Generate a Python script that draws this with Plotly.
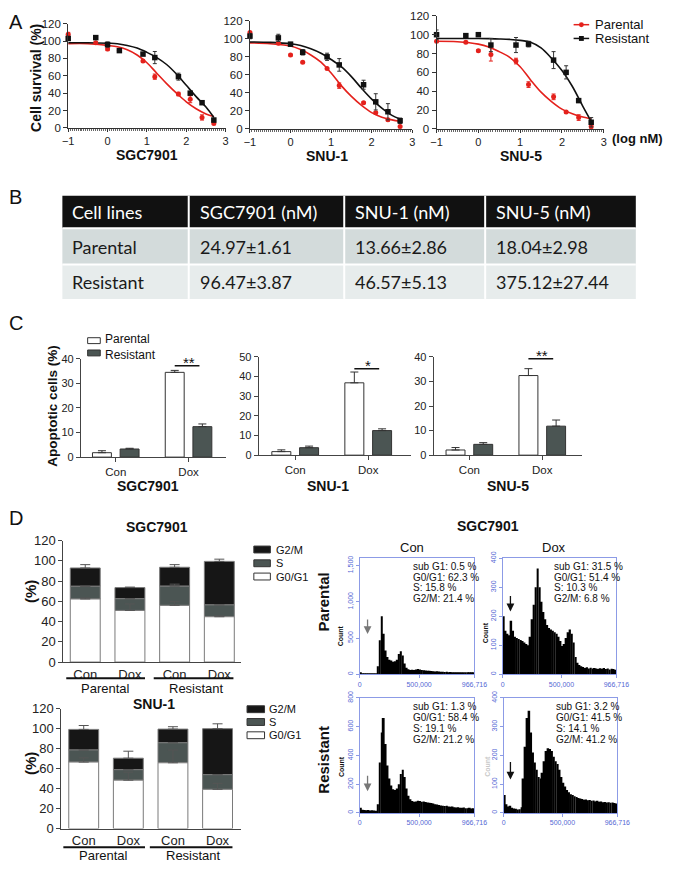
import plotly.graph_objects as go

W, H = 677, 872
def fx(x): return x / W
def fy(y): return 1 - y / H

FONT = "Liberation Sans"
RED = "#e4211c"
BLK = "#111111"

# ---------------- Panel A: dose-response ----------------
doses = [-1, -0.3, 0, 0.3, 0.9, 1.2, 1.8, 2.1, 2.4, 2.7]
fit_x = [-1, -0.5, 0, 0.25, 0.5, 0.75, 1, 1.25, 1.5, 1.75, 2, 2.25, 2.5, 2.7]
a_cells = ["SGC7901", "SNU-1", "SNU-5"]

sgc_par = [108, 98, 91, 89, 77, 59, 39, 33, 12, 5]
sgc_par_err = [2, 1, 2, 1, 1, 3, 2, 4, 3, 1]
sgc_res = [103, 104, 96, 89, 85, 81, 59, 40, 29, 9]
sgc_res_err = [2, 2, 3, 2, 1, 7, 4, 1, 1, 2]
sgc_par_fit = [97, 97, 95, 93.5, 90, 84, 75, 63, 51, 40, 30, 22, 16, 13]
sgc_res_fit = [98, 98, 97.5, 97, 95, 92, 87, 81, 73, 62, 49, 36, 24, 12]

snu1_par = [107, 95, 82, 74, 67, 48, 29, 18, 10, 2.5]
snu1_par_err = [1, 1, 1, 1, 1, 3, 1, 1, 1, 1]
snu1_res = [103, 101, 94, 85, 80, 71, 49, 30, 19, 9]
snu1_res_err = [3, 4, 2, 3, 4, 7, 5, 9, 9, 3]
snu1_par_fit = [95.5, 94.5, 92, 88, 82, 74, 62, 48, 36, 26, 18, 13, 10, 8.5]
snu1_res_fit = [96.5, 96, 94.5, 92.5, 89, 84, 77, 69, 58, 45, 33, 23, 15, 11]

snu5_par = [93, 92, 83, 79, 72, 47, 34, 18, 12, 2.5]
snu5_par_err = [1, 1, 1, 7, 3, 3, 3, 1, 3, 2]
snu5_res = [100, 99, 100, 89, 89, 90, 73, 60, 30, 7]
snu5_res_err = [5, 1, 1, 7, 8, 3, 9, 7, 1, 5]
snu5_par_fit = [93, 92.5, 90, 87, 82, 76, 66, 52, 39, 29, 21, 16, 12.5, 10.5]
snu5_res_fit = [96, 96, 96, 95.8, 95.5, 95, 94, 92, 86, 75, 62, 45, 24, 8]

# ---------------- Panel B: IC50 table ----------------
table_header = ["Cell lines", "SGC7901 (nM)", "SNU-1 (nM)", "SNU-5 (nM)"]
table_parental = ["Parental", "24.97±1.61", "13.66±2.86", "18.04±2.98"]
table_resistant = ["Resistant", "96.47±3.87", "46.57±5.13", "375.12±27.44"]

# ---------------- Panel C: apoptosis ----------------
c_groups = ["Con", "Dox"]
c_cells = ["SGC7901", "SNU-1", "SNU-5"]
c_series = ["Parental", "Resistant"]
apo_par = [[1.8, 34.5], [1.8, 36.8], [2.1, 32.4]]
apo_par_err = [[0.8, 0.8], [0.9, 5.5], [1.0, 2.8]]
apo_res = [[3.3, 12.4], [3.8, 12.5], [4.4, 11.8]]
apo_res_err = [[0.3, 1.1], [0.8, 0.9], [0.7, 2.5]]
apo_sig = ["**", "*", "**"]

# ---------------- Panel D: cell cycle bars ----------------
d_ticks = ["Con", "Dox", "Con", "Dox"]
d_groups = ["Parental", "Resistant"]
phases = ["G2/M", "S", "G0/G1"]
sgc_g0g1 = [62.3, 51.0, 56.0, 44.8]
sgc_s = [12.6, 11.6, 19.0, 11.7]
sgc_g2m = [18.1, 11.0, 18.7, 43.0]
sgc_g0g1_err = [1.0, 6.4, 3.7, 0.8]
sgc_s_err = [0, 0, 2.0, 0]
sgc_g2m_err = [3.3, 0.5, 2.6, 2.2]
snu1_g0g1 = [66.6, 48.5, 65.9, 39.3]
snu1_s = [12.1, 10.5, 20.0, 14.7]
snu1_g2m = [20.6, 11.5, 13.7, 46.0]
snu1_g0g1_err = [4.2, 8.0, 12.8, 6.0]
snu1_s_err = [0, 0, 0, 0]
snu1_g2m_err = [3.9, 7.0, 2.4, 4.9]

# ---------------- Panel D: DNA histograms (60 bins over 0..966,716) ----------------
hist_max = 966716
par_con_counts = [25, 10, 5, 5, 4, 5, 4, 5, 8, 110, 470, 800, 560, 330, 240, 200, 190, 175, 180, 200,
                  280, 320, 260, 150, 90, 70, 60, 62, 58, 65, 72, 68, 60, 55, 52, 50, 48, 45, 42, 40,
                  42, 38, 36, 35, 33, 34, 30, 31, 29, 28, 30, 27, 26, 28, 25, 27, 24, 26, 25, 24]
par_dox_counts = [200, 150, 140, 135, 185, 150, 130, 125, 122, 118, 115, 110, 105, 100, 130, 190, 240, 300, 365, 300,
                  250, 215, 190, 170, 160, 155, 150, 145, 140, 130, 115, 98, 105, 125, 145, 155, 140, 110, 60, 40,
                  32, 28, 25, 22, 24, 20, 23, 19, 22, 20, 18, 21, 19, 22, 18, 20, 17, 19, 18, 16]
res_con_counts = [35, 22, 20, 18, 20, 17, 19, 16, 15, 60, 350, 560, 660, 480, 330, 240, 190, 165, 160, 170,
                  200, 270, 300, 250, 170, 120, 95, 82, 78, 80, 85, 82, 78, 80, 75, 72, 70, 68, 65, 60,
                  58, 55, 52, 50, 48, 50, 45, 42, 44, 40, 38, 40, 36, 35, 38, 33, 32, 35, 30, 32]
res_dox_counts = [62, 30, 22, 25, 18, 15, 14, 12, 13, 20, 120, 230, 330, 355, 280, 210, 175, 150, 125, 120,
                  140, 180, 215, 225, 222, 215, 195, 180, 170, 150, 125, 105, 92, 80, 72, 65, 62, 58, 55, 52,
                  50, 48, 46, 47, 44, 45, 42, 43, 40, 42, 39, 40, 37, 38, 36, 37, 35, 36, 34, 33]
par_con_stats = ["sub G1: 0.5 %", "G0/G1: 62.3 %", "S: 15.8 %", "G2/M: 21.4 %"]
par_dox_stats = ["sub G1: 31.5 %", "G0/G1: 51.4 %", "S: 10.3 %", "G2/M: 6.8 %"]
res_con_stats = ["sub G1: 1.3 %", "G0/G1: 58.4 %", "S: 19.1 %", "G2/M: 21.2 %"]
res_dox_stats = ["sub G1: 3.2 %", "G0/G1: 41.5 %", "S: 14.1 %", "G2/M: 41.2 %"]
hist_x_ticks = [0, 500000, 966716]
hist_x_text = ["0", "500,000", "966,716"]

# =====================================================================
fig = go.Figure()
layout = dict(width=W, height=H, autosize=False, margin=dict(l=0, r=0, t=0, b=0, pad=0),
              paper_bgcolor="white", plot_bgcolor="white", showlegend=False,
              barmode="overlay", font=dict(family=FONT, color=BLK))
annotations = []
shapes = []

def keys(i):
    s = "" if i == 1 else str(i)
    return "xaxis" + s, "yaxis" + s, "x" + s, "y" + s

def text(t, x, y, size, bold=False, angle=0, anchor="center", color=BLK, family=FONT):
    annotations.append(dict(text=("<b>%s</b>" % t) if bold else t, x=fx(x), y=fy(y),
                            xref="paper", yref="paper", showarrow=False,
                            font=dict(size=size, color=color, family=family),
                            textangle=angle, xanchor=anchor, yanchor="middle", align="left"))

def rect(x0, y0, x1, y1, fill, line=None, lw=0):
    shapes.append(dict(type="rect", xref="paper", yref="paper", x0=fx(x0), x1=fx(x1),
                       y0=fy(y1), y1=fy(y0), fillcolor=fill,
                       line=dict(color=line or fill, width=lw), layer="above"))

def hline(x0, x1, y, color=BLK, w=1.0):
    shapes.append(dict(type="line", xref="paper", yref="paper", x0=fx(x0), x1=fx(x1),
                       y0=fy(y), y1=fy(y), line=dict(color=color, width=w), layer="above"))

def arrow(x, y_tail, y_head, shaft="black"):
    annotations.append(dict(text="", x=fx(x), y=fy(y_head), xref="paper", yref="paper",
                            ax=0, ay=-(y_head - y_tail), showarrow=True, arrowhead=2,
                            arrowsize=1.2, arrowwidth=1.3, arrowcolor=shaft))

# ---------------- Panel A ----------------
A_dom = [((64, 226), (123, 17)), ((251, 418), (124, 14)), ((443, 615), (124, 9))]
A_data = [(sgc_par, sgc_par_err, sgc_res, sgc_res_err, sgc_par_fit, sgc_res_fit),
          (snu1_par, snu1_par_err, snu1_res, snu1_res_err, snu1_par_fit, snu1_res_fit),
          (snu5_par, snu5_par_err, snu5_res, snu5_res_err, snu5_par_fit, snu5_res_fit)]
A_title_pos = [(145, 151), (330, 152), (530, 152)]
for k in range(3):
    i = k + 1
    xk, yk, xr, yr = keys(i)
    (x0, x1), (yb, yt) = A_dom[k]
    layout[xk] = dict(domain=[fx(x0), fx(x1)], range=[-1, 3], anchor=yr, showline=True,
                      linecolor="#333", linewidth=1, ticks="outside", ticklen=3, tickcolor="#333",
                      tickmode="linear", tick0=-1, dtick=1, tickfont=dict(size=11, color="#222"),
                      showgrid=False, zeroline=False,
                      minor=dict(ticks="outside", ticklen=2.5, tick0=-1, dtick=0.05,
                                 tickcolor="#666", showgrid=False))
    layout[yk] = dict(domain=[fy(yb), fy(yt)], range=[0, 120], anchor=xr, showline=True,
                      linecolor="#333", linewidth=1, ticks="outside", ticklen=4, tickcolor="#333",
                      dtick=20, tickfont=dict(size=11.5, color="#222"), showgrid=False, zeroline=False)
    par, pe, res, re_, pf, rf = A_data[k]
    fig.add_trace(go.Scatter(x=fit_x, y=pf, mode="lines", line=dict(color=RED, width=1.6, shape="spline"),
                             xaxis=xr, yaxis=yr, cliponaxis=False))
    fig.add_trace(go.Scatter(x=fit_x, y=rf, mode="lines", line=dict(color=BLK, width=1.6, shape="spline"),
                             xaxis=xr, yaxis=yr, cliponaxis=False))
    fig.add_trace(go.Scatter(x=doses, y=par, mode="markers", marker=dict(color=RED, size=5, symbol="circle"),
                             error_y=dict(type="data", array=pe, color=RED, thickness=1, width=2),
                             xaxis=xr, yaxis=yr, cliponaxis=False, name="Parental"))
    fig.add_trace(go.Scatter(x=doses, y=res, mode="markers", marker=dict(color=BLK, size=5.5, symbol="square"),
                             error_y=dict(type="data", array=re_, color="#333", thickness=1, width=2),
                             xaxis=xr, yaxis=yr, cliponaxis=False, name="Resistant"))
    tx, ty = A_title_pos[k]
    text(a_cells[k], tx, ty, 14, bold=True)
text("A", 10, 15, 20)
text("Cell survival (%)", 31, 72, 14, bold=True, angle=-90)
text("(log nM)", 650, 134, 13, bold=True)
# legend A
for j, (nm, col, sym) in enumerate([("Parental", RED, "circle"), ("Resistant", BLK, "square")]):
    yy = 18 + 14 * j
    hline(584, 600, yy, col, 1.5)
    if sym == "circle":
        shapes.append(dict(type="circle", xref="paper", yref="paper", x0=fx(589.5), x1=fx(594.5),
                           y0=fy(yy + 2.5), y1=fy(yy - 2.5), fillcolor=col, line=dict(color=col, width=0)))
    else:
        rect(589.5, yy - 2.5, 594.5, yy + 2.5, col)
    text(nm, 604, yy, 13, anchor="left")

# ---------------- Panel B ----------------
col_edges = [58, 188, 348, 493, 648]
row_edges = [192, 225, 262, 297]
text_x = [66, 198, 357, 502]
row_fill = ["#111111", "#d3dbdb", "#e7ecec"]
row_color = ["white", "#1a1a1a", "#1a1a1a"]
for r, row in enumerate([table_header, table_parental, table_resistant]):
    for c in range(4):
        rect(col_edges[c], row_edges[r], col_edges[c + 1], row_edges[r + 1], row_fill[r])
        text(row[c], text_x[c], (row_edges[r] + row_edges[r + 1]) / 2 + 0.5, 18,
             anchor="left", color=row_color[r], family="Lato")
for c in range(1, 4):
    shapes.append(dict(type="line", xref="paper", yref="paper", x0=fx(col_edges[c]), x1=fx(col_edges[c]),
                       y0=fy(row_edges[0]), y1=fy(row_edges[-1]), line=dict(color="white", width=2), layer="above"))
for r in range(1, 3):
    hline(col_edges[0], col_edges[-1], row_edges[r], "white", 2)
text("B", 10, 193, 20)

# ---------------- Panel C ----------------
C_dom = [((77, 226), (458, 358)), ((260, 417), (456, 356)), ((440, 593), (456, 356))]
C_yr = [40, 50, 40]
C_xr = [(-0.48, 1.51), (-0.5, 1.59), (-0.49, 1.55)]
C_sig_y = [37.2, 44.0, 39.2]
C_title_x = [146, 331, 517]
off, bw = 0.19, 0.26
for k in range(3):
    i = k + 4
    xk, yk, xr, yr = keys(i)
    (x0, x1), (yb, yt) = C_dom[k]
    layout[xk] = dict(domain=[fx(x0), fx(x1)], range=list(C_xr[k]), anchor=yr, showline=True,
                      linecolor="#444", linewidth=1, ticks="outside", ticklen=4, tickcolor="#444",
                      tickvals=[0, 1], ticktext=c_groups, tickfont=dict(size=11.5, color="#222"),
                      showgrid=False, zeroline=False)
    layout[yk] = dict(domain=[fy(yb), fy(yt)], range=[0, C_yr[k]], anchor=xr, showline=True,
                      linecolor="#444", linewidth=1, ticks="outside", ticklen=4, tickcolor="#444",
                      dtick=10, tickfont=dict(size=11, color="#222"), showgrid=False, zeroline=False)
    fig.add_trace(go.Bar(x=[g - off for g in range(2)], y=apo_par[k], width=bw,
                         marker=dict(color="white", line=dict(color="#333", width=1)),
                         error_y=dict(type="data", array=apo_par_err[k], arrayminus=[0, 0], symmetric=False,
                                      color="#333", thickness=1, width=4),
                         xaxis=xr, yaxis=yr, name="Parental"))
    fig.add_trace(go.Bar(x=[g + off for g in range(2)], y=apo_res[k], width=bw,
                         marker=dict(color="#4b5553", line=dict(color="#333", width=1)),
                         error_y=dict(type="data", array=apo_res_err[k], arrayminus=[0, 0], symmetric=False,
                                      color="#333", thickness=1, width=4),
                         xaxis=xr, yaxis=yr, name="Resistant"))
    shapes.append(dict(type="line", xref=xr, yref=yr, x0=1 - off, x1=1 + off - 0.04,
                       y0=C_sig_y[k], y1=C_sig_y[k], line=dict(color=BLK, width=1.5)))
    annotations.append(dict(text=apo_sig[k], x=1, y=C_sig_y[k], xref=xr, yref=yr, showarrow=False,
                            yanchor="bottom", yshift=-7, font=dict(size=15, color=BLK, family=FONT)))
    text(c_cells[k], C_title_x[k], 487, 14, bold=True)
text("C", 10, 322, 20)
text("Apoptotic cells (%)", 47, 406, 13.5, bold=True, angle=-90)
rect(84, 336.5, 97, 342.5, "white", "#333", 1)
rect(84, 349, 97, 355, "#4b5553", "#333", 1)
text("<br>".join(c_series), 100, 346, 12, anchor="left")

# ---------------- Panel D: stacked bars ----------------
D_dom = [((59, 242), (666.5, 543)), ((57, 242), (836, 714))]
D_xr = [(-0.49, 3.49), (-0.5, 3.53)]
D_data = [(sgc_g0g1, sgc_s, sgc_g2m, sgc_g0g1_err, sgc_s_err, sgc_g2m_err),
          (snu1_g0g1, snu1_s, snu1_g2m, snu1_g0g1_err, snu1_s_err, snu1_g2m_err)]
D_titles = [("SGC7901", 155, 529), ("SNU-1", 152, 709)]
D_under = [(683, 62, 143, 152, 234, 693, 102, 196), (855, 59, 143, 148, 233, 863, 100, 193)]
D_leg = [(255, 272, 276, [552, 566, 579.5]), (248, 266, 269, [714.5, 727.5, 741])]
D_ylab = [595, 770]
phase_col = {"G2/M": "#161616", "S": "#4b5553", "G0/G1": "white"}
for k in range(2):
    i = k + 7
    xk, yk, xr, yr = keys(i)
    (x0, x1), (yb, yt) = D_dom[k]
    layout[xk] = dict(domain=[fx(x0), fx(x1)], range=list(D_xr[k]), anchor=yr, showline=True,
                      linecolor="#444", linewidth=1, ticks="", tickvals=[0, 1, 2, 3], ticktext=d_ticks,
                      tickfont=dict(size=13, color="#222"), showgrid=False, zeroline=False)
    layout[yk] = dict(domain=[fy(yb), fy(yt)], range=[0, 120], anchor=xr, showline=True,
                      linecolor="#444", linewidth=1, ticks="outside", ticklen=4, tickcolor="#444",
                      dtick=20, tickfont=dict(size=13, color="#222"), showgrid=False, zeroline=False)
    g1, s, g2, g1e, se, g2e = D_data[k]
    xs = [0, 1, 2, 3]
    base_s = g1
    base_g2 = [a + b for a, b in zip(g1, s)]
    for y, base, err, ph in [(g2, base_g2, g2e, "G2/M"), (s, base_s, se, "S"), (g1, [0] * 4, g1e, "G0/G1")]:
        fig.add_trace(go.Bar(x=xs, y=y, base=base, width=0.67,
                             marker=dict(color=phase_col[ph], line=dict(color="#7a7a7a", width=1)),
                             error_y=dict(type="data", array=err, arrayminus=[0] * 4, symmetric=False,
                                          color="#555", thickness=1, width=5),
                             xaxis=xr, yaxis=yr, name=ph))
    t, tx, ty = D_titles[k]
    text(t, tx, ty, 14, bold=True)
    uy, a0, a1, b0, b1, gy, gx0, gx1 = D_under[k]
    hline(a0, a1, uy, BLK, 2)
    hline(b0, b1, uy, BLK, 2)
    text(d_groups[0], gx0, gy, 13)
    text(d_groups[1], gx1, gy, 13)
    lx0, lx1, tx0, lys = D_leg[k]
    for ph, ly in zip(phases, lys):
        rect(lx0, ly - 3.5, lx1, ly + 3.5, phase_col[ph], "#333", 1)
        text(ph, tx0, ly, 11, anchor="left")
    text("(%)", 25, D_ylab[k], 15, bold=True, angle=-90)
text("D", 10, 520, 20)

# ---------------- Panel D: histograms ----------------
nb = len(par_con_counts)
bin_w = hist_max / nb
bin_c = [(j + 0.5) * bin_w for j in range(nb)]
H_dom = [((364, 482), (679, 561)), ((511, 628), (679, 561)), ((364, 482), (820, 703)), ((512, 629), (820, 703))]
H_counts = [par_con_counts, par_dox_counts, res_con_counts, res_dox_counts]
H_ymax = [1600, 400, 800, 400]
H_yt = [([0, 500, 1000, 1500], ["0", "500", "1,000", "1,500"]),
        ([0, 100, 200, 300, 400], ["0", "100", "200", "300", "400"]),
        ([0, 200, 400, 600, 800], ["0", "200", "400", "600", "800"]),
        ([0, 100, 200, 300, 400], ["0", "100", "200", "300", "400"])]
H_stats = [par_con_stats, par_dox_stats, res_con_stats, res_dox_stats]
H_stat_pos = [(417, 569), (562, 569), (417, 712), (564, 712)]
H_count_lab = [(345, 640, BLK), (493, 637, BLK), (345, 773, BLK), (496, 773, "#c8c8c8")]
H_arrows = [(372, 622, 638, "#777"), (519, 598, 615, BLK), (372, 781, 798, "#777"), (519, 767, 786, BLK)]
FRAME = "#8c9be6"
TICKC = "#5468d4"
for k in range(4):
    i = k + 9
    xk, yk, xr, yr = keys(i)
    (x0, x1), (yb, yt) = H_dom[k]
    layout[xk] = dict(domain=[fx(x0), fx(x1)], range=[0, hist_max], anchor=yr, showline=True, mirror=True,
                      linecolor=FRAME, linewidth=1, ticks="outside", ticklen=3, tickcolor=FRAME,
                      tickvals=hist_x_ticks, ticktext=hist_x_text, tickfont=dict(size=7, color=TICKC),
                      showgrid=False, zeroline=False)
    layout[yk] = dict(domain=[fy(yb), fy(yt)], range=[0, H_ymax[k]], anchor=xr, showline=True, mirror=True,
                      linecolor=FRAME, linewidth=1, ticks="outside", ticklen=3, tickcolor=FRAME,
                      tickvals=H_yt[k][0], ticktext=H_yt[k][1], tickangle=-90,
                      tickfont=dict(size=7, color=TICKC), showgrid=False, zeroline=False)
    fig.add_trace(go.Bar(x=bin_c, y=H_counts[k], width=bin_w, marker=dict(color="black", line=dict(width=0)),
                         xaxis=xr, yaxis=yr))
    sx, sy = H_stat_pos[k]
    for j, line in enumerate(H_stats[k]):
        text(line, sx, sy + 11 * j, 10, anchor="left")
    cx, cy, cc = H_count_lab[k]
    text("Count", cx, cy, 7, bold=True, angle=-90, color=cc)
    ax_, t0, t1, ac = H_arrows[k]
    arrow(ax_, t0, t1, ac)
text("SGC7901", 496, 528, 14, bold=True)
text("Con", 418, 550, 13)
text("Dox", 564, 550, 13)
text("Parental", 327, 605, 15, bold=True, angle=-90)
text("Resistant", 327, 766, 15, bold=True, angle=-90)

layout["annotations"] = annotations
layout["shapes"] = shapes
fig.update_layout(**layout)
fig.write_html("out.html", config={"responsive": False, "displayModeBar": False},
               post_script="document.body.style.margin='0';document.body.style.overflow='hidden';")
